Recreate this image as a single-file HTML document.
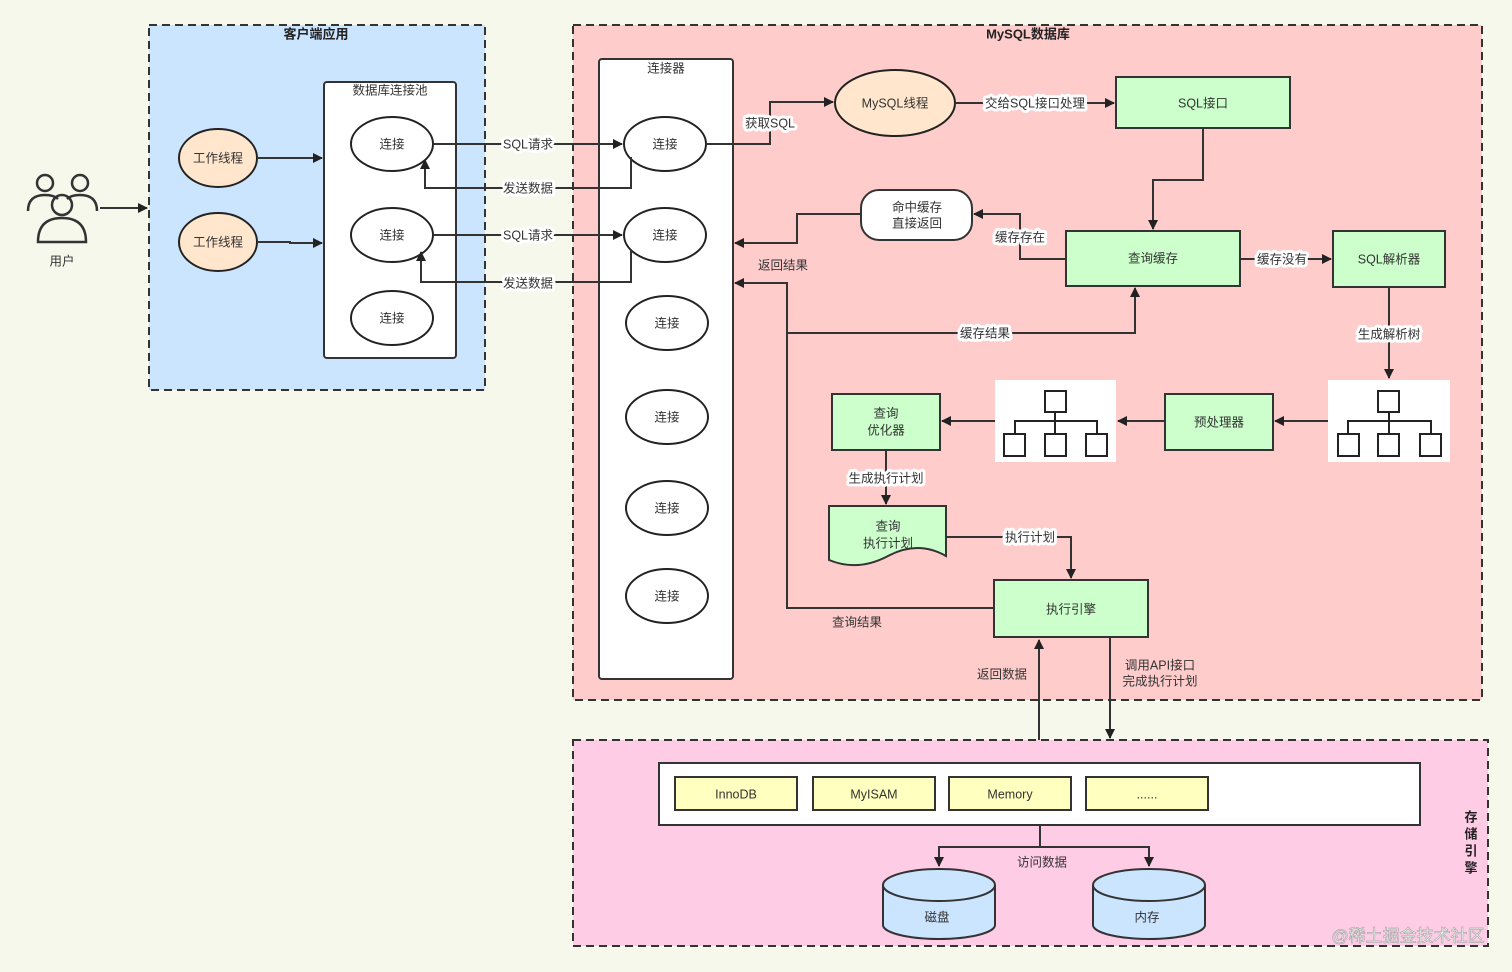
<!DOCTYPE html>
<html><head><meta charset="utf-8"><style>
html,body{margin:0;padding:0;background:#f6f8ec;}
svg{display:block;font-family:"Liberation Sans","Noto Sans CJK SC",sans-serif;}
text{font-size:12.5px;fill:#333;text-anchor:middle;dominant-baseline:middle;}
.b{font-weight:bold;font-size:13px;fill:#222}
.l{fill:none;stroke:#333;stroke-width:2}
.lbl{paint-order:stroke;stroke:#fff;stroke-width:6px;stroke-linejoin:round}
</style></head><body>
<svg width="1512" height="972" viewBox="0 0 1512 972">
<defs><marker id="a" markerWidth="10" markerHeight="10" refX="9" refY="5" orient="auto" markerUnits="userSpaceOnUse"><path d="M0,0 L10,5 L0,10 z" fill="#222"/></marker></defs>
<rect width="1512" height="972" fill="#f6f8ec"/>
<rect x="149" y="25" width="336" height="365" fill="#cce5ff" stroke="#333" stroke-width="2" stroke-dasharray="8,5"/>
<text x="316" y="35" class="b">客户端应用</text>
<rect x="324" y="82" width="132" height="276" rx="3" fill="#fff" stroke="#333" stroke-width="2"/>
<text x="390" y="91">数据库连接池</text>
<g fill="#fff" stroke="#222" stroke-width="2">
<ellipse cx="392" cy="144" rx="41" ry="27"/><ellipse cx="392" cy="235" rx="41" ry="27"/><ellipse cx="392" cy="318" rx="41" ry="27"/>
</g>
<text x="392" y="145">连接</text><text x="392" y="236">连接</text><text x="392" y="319">连接</text>
<g fill="#ffe6cc" stroke="#222" stroke-width="2">
<ellipse cx="218" cy="158" rx="39" ry="29"/><ellipse cx="218" cy="242" rx="39" ry="29"/>
</g>
<text x="218" y="159">工作线程</text><text x="218" y="243">工作线程</text>
<path class="l" d="M257,158 H322" marker-end="url(#a)"/>
<path class="l" d="M257,242 H290 V243 H322" marker-end="url(#a)"/>
<g fill="none" stroke="#333" stroke-width="2.5">
<circle cx="45" cy="183" r="8"/><path d="M28,211 Q28,195 45,195 Q54,195 58,199"/>
<circle cx="80" cy="183" r="8"/><path d="M97,211 Q97,195 80,195 Q71,195 67,199"/>
<circle cx="62" cy="205" r="10"/><path d="M38,242 Q38,218 62,218 Q86,218 86,242 Z"/>
</g>
<text x="62" y="262">用户</text>
<path class="l" d="M100,208 H147" marker-end="url(#a)"/>
<rect x="573" y="25" width="909" height="675" fill="#ffcccc" stroke="#333" stroke-width="2" stroke-dasharray="8,5"/>
<text x="1028" y="35" class="b">MySQL数据库</text>
<rect x="599" y="59" width="134" height="620" rx="3" fill="#fff" stroke="#333" stroke-width="2"/>
<text x="666" y="69">连接器</text>
<g fill="#fff" stroke="#222" stroke-width="2">
<ellipse cx="665" cy="144" rx="41" ry="27"/><ellipse cx="665" cy="235" rx="41" ry="27"/><ellipse cx="667" cy="323" rx="41" ry="27"/><ellipse cx="667" cy="417" rx="41" ry="27"/><ellipse cx="667" cy="508" rx="41" ry="27"/><ellipse cx="667" cy="596" rx="41" ry="27"/>
</g>
<text x="665" y="145">连接</text><text x="665" y="236">连接</text><text x="667" y="324">连接</text><text x="667" y="418">连接</text><text x="667" y="509">连接</text><text x="667" y="597">连接</text>
<path class="l" d="M433,144 H622" marker-end="url(#a)"/>
<path class="l" d="M631,157 V188 H425 V160" marker-end="url(#a)"/>
<path class="l" d="M433,235 H622" marker-end="url(#a)"/>
<path class="l" d="M631,250 V282 H421 V252" marker-end="url(#a)"/>
<text x="528" y="145" class="lbl">SQL请求</text><text x="528" y="189" class="lbl">发送数据</text>
<text x="528" y="236" class="lbl">SQL请求</text><text x="528" y="284" class="lbl">发送数据</text>
<ellipse cx="895" cy="103" rx="60" ry="33" fill="#ffe6cc" stroke="#222" stroke-width="2"/>
<text x="895" y="104">MySQL线程</text>
<path class="l" d="M706,144 H770 V102 H833" marker-end="url(#a)"/>
<text x="770" y="124" class="lbl">获取SQL</text>
<path class="l" d="M955,103 H1114" marker-end="url(#a)"/>
<text x="1035" y="104" class="lbl">交给SQL接口处理</text>
<g fill="#ccffcc" stroke="#333" stroke-width="2">
<rect x="1116" y="77" width="174" height="51"/>
<rect x="1066" y="231" width="174" height="55"/>
<rect x="1333" y="231" width="112" height="56"/>
<rect x="1165" y="394" width="108" height="56"/>
<rect x="832" y="394" width="108" height="56"/>
<rect x="994" y="580" width="154" height="57"/>
<path d="M829,506 H946 V556 Q918,540 888,556 Q858,572 829,560 Z"/>
</g>
<text x="1203" y="104">SQL接口</text>
<text x="1153" y="259">查询缓存</text>
<text x="1389" y="260">SQL解析器</text>
<text x="1219" y="423">预处理器</text>
<text x="886" y="414">查询</text><text x="886" y="431">优化器</text>
<text x="1071" y="610">执行引擎</text>
<text x="888" y="527">查询</text><text x="888" y="544">执行计划</text>
<path class="l" d="M1203,128 V180 H1153 V229" marker-end="url(#a)"/>
<path class="l" d="M1240,259 H1331" marker-end="url(#a)"/>
<text x="1282" y="260" class="lbl">缓存没有</text>
<rect x="861" y="190" width="111" height="50" rx="18" fill="#fff" stroke="#333" stroke-width="2"/>
<text x="917" y="208">命中缓存</text><text x="917" y="224">直接返回</text>
<path class="l" d="M1066,259 H1020 V214 H974" marker-end="url(#a)"/>
<text x="1020" y="238" class="lbl">缓存存在</text>
<path class="l" d="M861,214 H797 V243 H735" marker-end="url(#a)"/>
<text x="783" y="266">返回结果</text>
<path class="l" d="M994,608 H787 V283 H735" marker-end="url(#a)"/>
<path class="l" d="M787,333 H1135 V288" marker-end="url(#a)"/>
<text x="985" y="334" class="lbl">缓存结果</text>
<text x="857" y="623">查询结果</text>
<path class="l" d="M1389,287 V378" marker-end="url(#a)"/>
<text x="1389" y="335" class="lbl">生成解析树</text>
<g>
<rect x="1328" y="380" width="122" height="82" fill="#fff"/>
<rect x="995" y="380" width="121" height="82" fill="#fff"/>
<g fill="none" stroke="#222" stroke-width="2">
<rect x="1378" y="391" width="21" height="21"/><path d="M1389,412 V421 M1348,434 V421 H1431 V434 M1389,421 V434"/>
<rect x="1338" y="434" width="21" height="22"/><rect x="1378" y="434" width="21" height="22"/><rect x="1420" y="434" width="21" height="22"/>
<rect x="1045" y="391" width="21" height="21"/><path d="M1055,412 V421 M1015,434 V421 H1097 V434 M1055,421 V434"/>
<rect x="1004" y="434" width="21" height="22"/><rect x="1045" y="434" width="21" height="22"/><rect x="1086" y="434" width="21" height="22"/>
</g></g>
<path class="l" d="M1328,421 H1275" marker-end="url(#a)"/>
<path class="l" d="M1165,421 H1118" marker-end="url(#a)"/>
<path class="l" d="M995,421 H942" marker-end="url(#a)"/>
<path class="l" d="M886,450 V504" marker-end="url(#a)"/>
<text x="886" y="479" class="lbl">生成执行计划</text>
<path class="l" d="M946,537 H1071 V578" marker-end="url(#a)"/>
<text x="1030" y="538" class="lbl">执行计划</text>
<rect x="573" y="740" width="915" height="206" fill="#ffcce6" stroke="#333" stroke-width="2" stroke-dasharray="8,5"/>
<path class="l" d="M1039,740 V640" marker-end="url(#a)"/>
<path class="l" d="M1110,637 V738" marker-end="url(#a)"/>
<text x="1002" y="675">返回数据</text>
<text x="1160" y="666">调用API接口</text><text x="1160" y="682">完成执行计划</text>
<rect x="659" y="763" width="761" height="62" fill="#fff" stroke="#333" stroke-width="2"/>
<g fill="#ffffc0" stroke="#333" stroke-width="2">
<rect x="675" y="777" width="122" height="33"/><rect x="813" y="777" width="122" height="33"/><rect x="949" y="777" width="122" height="33"/><rect x="1086" y="777" width="122" height="33"/>
</g>
<text x="736" y="795">InnoDB</text><text x="874" y="795">MyISAM</text><text x="1010" y="795">Memory</text><text x="1147" y="795">......</text>
<path class="l" d="M1040,825 V847"/>
<path class="l" d="M1040,847 H939 V866" marker-end="url(#a)"/>
<path class="l" d="M1040,847 H1149 V866" marker-end="url(#a)"/>
<text x="1042" y="863">访问数据</text>
<g fill="#cce5ff" stroke="#333" stroke-width="2">
<path d="M883,885 V925 A56,14 0 0 0 995,925 V885"/><ellipse cx="939" cy="885" rx="56" ry="16"/>
<path d="M1093,885 V925 A56,14 0 0 0 1205,925 V885"/><ellipse cx="1149" cy="885" rx="56" ry="16"/>
</g>
<text x="937" y="918">磁盘</text><text x="1147" y="918">内存</text>
<text x="1471" y="818" class="b">存</text><text x="1471" y="835" class="b">储</text><text x="1471" y="852" class="b">引</text><text x="1471" y="869" class="b">擎</text>
<text x="1408" y="937" style="font-size:17px;fill:#fff;stroke:#aaa;stroke-width:0.7">@稀土掘金技术社区</text>
</svg>
</body></html>
